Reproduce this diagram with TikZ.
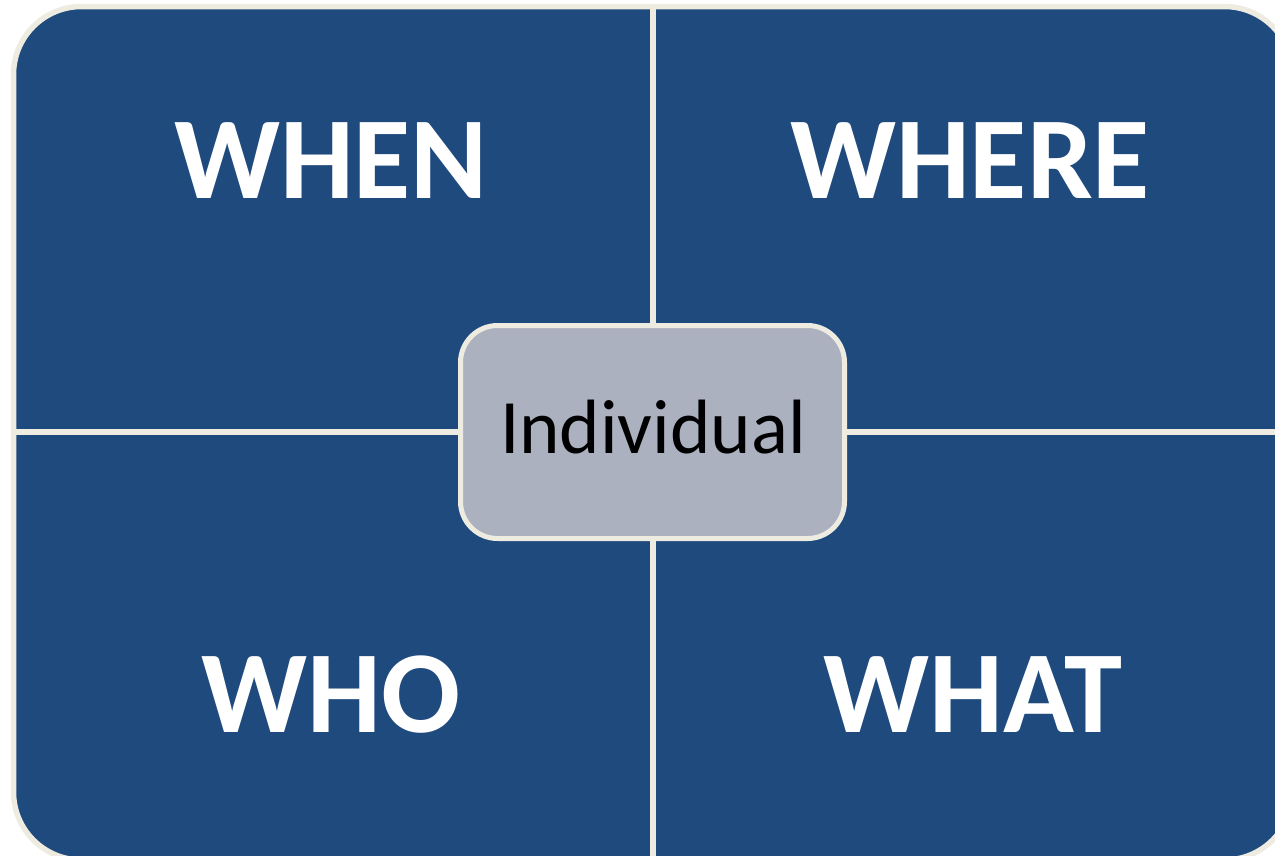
\documentclass[tikz,border=0pt]{standalone}
\usepackage{fontspec}
\setmainfont{Carlito}
\definecolor{qblue}{HTML}{1F4A7D}
\definecolor{cream}{HTML}{EEECE1}
\definecolor{cgray}{HTML}{ABB1BF}
\begin{document}
\begin{tikzpicture}[x=1pt,y=-1pt,
  quad/.style={fill=qblue,draw=cream,line width=5.5pt,rounded corners=68pt},
  sep/.style={draw=cream,line width=6pt},
  qlabel/.style={text=white,anchor=base,inner sep=0pt,font=\fontsize{117}{117}\selectfont\bfseries},
  center/.style={draw=cream,line width=5pt,fill=cgray,rounded corners=37pt,
    minimum width=384pt,minimum height=213pt,inner sep=0pt},
]
\useasboundingbox (0,0) rectangle (1275,855);
\clip (0,0) rectangle (1275,855);
% quadrants: outer frame and separators
\draw[quad] (13.5,6.5) rectangle (1292.5,860);
\coordinate (vt) at (653,6.5);
\coordinate (vb) at (653,860);
\coordinate (hl) at (13.5,431.5);
\coordinate (hr) at (1292.5,431.5);
\draw[sep] (vt) -- (vb);
\draw[sep] (hl) -- (hr);
% labels
\node[qlabel] (when) at (331,198) {WHEN};
\node[qlabel] (where) at (970,198) {WHERE};
\node[qlabel] (who) at (331,732) {WHO};
\node[qlabel] (what) at (973,732) {WHAT};
% center
\node[center] (ind) at (652.5,432) {};
\node[anchor=base,inner sep=0pt,font=\fontsize{77}{77}\selectfont] (indtxt) at (653,453) {Individual};
\end{tikzpicture}
\end{document}
